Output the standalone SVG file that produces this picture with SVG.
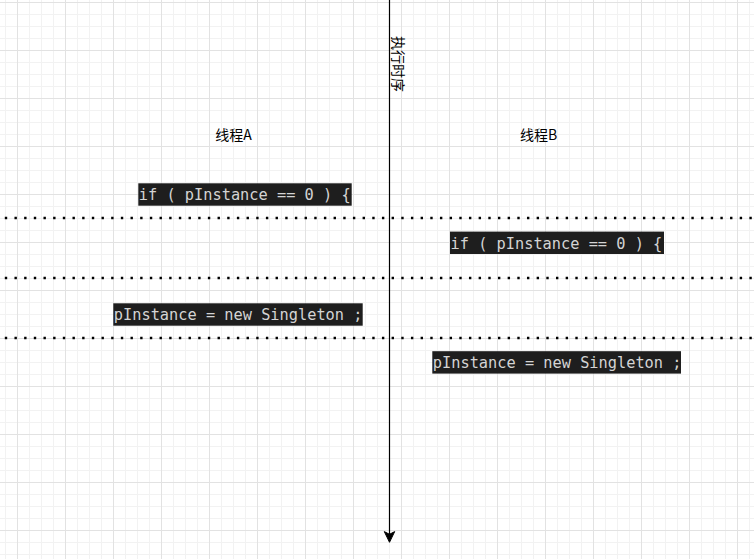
<svg xmlns="http://www.w3.org/2000/svg" width="754" height="559" viewBox="0 0 754 559">
<defs>
<pattern id="grid" patternUnits="userSpaceOnUse" x="17" y="2" width="48" height="48">
<path d="M12.5 0V48M24.5 0V48M36.5 0V48M0 12.5H48M0 24.5H48M0 36.5H48" stroke="#f2f2f2" stroke-width="1" fill="none"/>
<path d="M0.5 0V48M0 0.5H48" stroke="#e2e2e2" stroke-width="1" fill="none"/>
</pattern>
<style>
.lbl{font-family:"Noto Sans CJK SC","Liberation Sans",sans-serif;font-size:14px;fill:#000;text-anchor:middle}
.code{font-family:"DejaVu Sans Mono","Liberation Mono",monospace;font-size:15.3px;fill:#d4d4d4}
.box{fill:#1e1e1e}
.dots{stroke:#000;stroke-width:2.4;stroke-dasharray:2.4 7.27;fill:none}
</style>
</defs>
<rect width="754" height="559" fill="#ffffff"/>
<rect width="754" height="559" fill="url(#grid)"/>
<g id="connectors">
<line class="dots" x1="4.8" y1="218" x2="754" y2="218"/>
<line class="dots" x1="4.8" y1="278" x2="754" y2="278"/>
<line class="dots" x1="4.8" y1="338" x2="754" y2="338"/>
<line x1="389.5" y1="0" x2="389.5" y2="535" stroke="#000" stroke-width="1.2"/>
<path d="M389.5 542.3L384.3 531.6L389.5 534.3L394.7 531.6Z" fill="#000" stroke="#000" stroke-width="1"/>
</g>
<g id="axis-label">
<text class="lbl" transform="translate(399.2 64) rotate(90)" dominant-baseline="central">执行时序</text>
</g>
<g id="threadA">
<text class="lbl" x="233.5" y="140">线程A</text>
</g>
<g id="threadB">
<text class="lbl" x="538.5" y="140">线程B</text>
</g>
<g id="a-if">
<rect class="box" x="138.3" y="183.3" width="213.4" height="22.4"/>
<text class="code" x="138.8" y="200.3">if ( pInstance == 0 ) {</text>
</g>
<g id="b-if">
<rect class="box" x="450" y="231.6" width="214" height="22.4"/>
<text class="code" x="450.5" y="248.6">if ( pInstance == 0 ) {</text>
</g>
<g id="a-new">
<rect class="box" x="113.3" y="303.3" width="249.4" height="22.4"/>
<text class="code" x="113.8" y="320.3">pInstance = new Singleton ;</text>
</g>
<g id="b-new">
<rect class="box" x="432.3" y="351.2" width="248.7" height="22.4"/>
<text class="code" x="432.8" y="368.2">pInstance = new Singleton ;</text>
</g>
</svg>
